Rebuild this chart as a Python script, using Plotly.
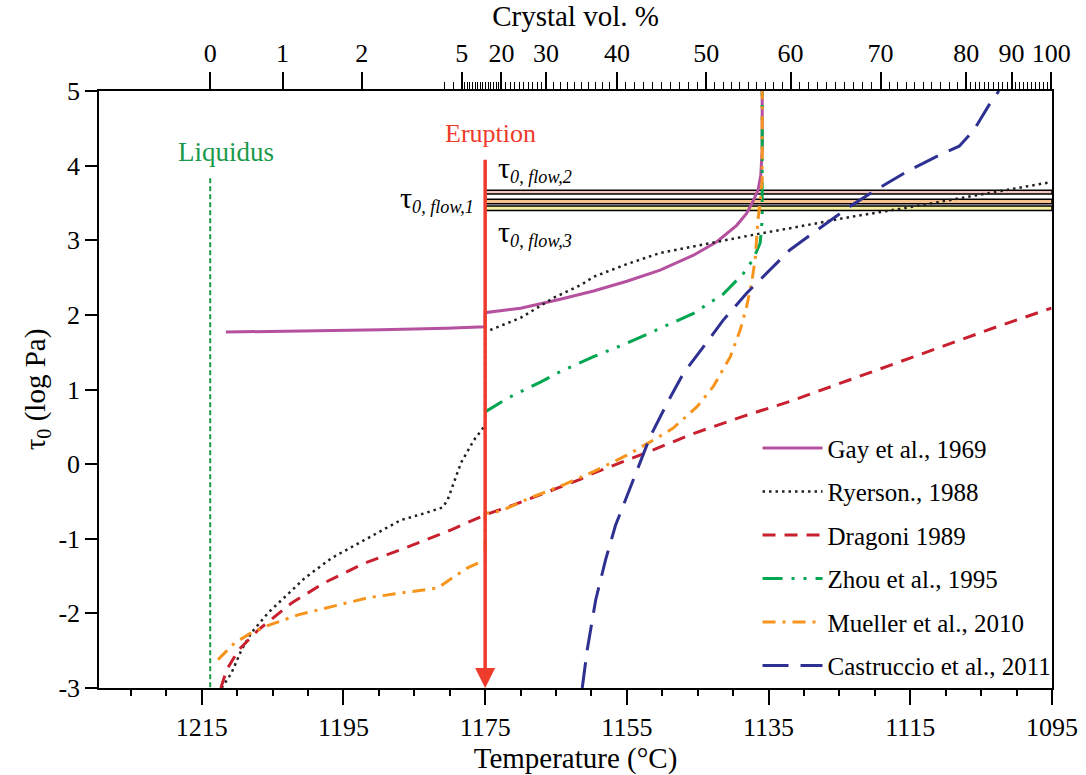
import numpy as np
import plotly.graph_objects as go

FONT = "Liberation Serif, Times New Roman, Times, serif"

# ---- axis definitions -------------------------------------------------
temp_range = [1229.5, 1095.0]
tau_range = [-3.0, 5.0]
y_tick_vals = [-3, -2, -1, 0, 1, 2, 3, 4, 5]
y_tick_text = ["-3", "-2", "-1", "0", "1", "2", "3", "4", "5"]

# top axis: crystal content (vol. %) and the temperature where it is reached
crystal_pct = [0, 1, 2, 5, 20, 30, 40, 50, 60, 70, 80, 90, 100]
crystal_T = [1213.8, 1203.6, 1192.4, 1178.3, 1172.7, 1166.4, 1156.4,
             1143.8, 1131.9, 1119.2, 1107.1, 1100.7, 1095.1]
crystal_labels = [str(p) for p in crystal_pct]
crystal_minor_extra_T = [1180.8, 1179.4]

# ---- reference temperatures -------------------------------------------
T_liquidus = 1213.8
T_eruption = 1175.0
liquidus_top = 3.83
eruption_top = 4.10

# ---- flow yield strength bands (log Pa) ---------------------------------
TAU = "<span style='font-size:30px'>τ</span>"
flow_names = [TAU + "<sub><i>0, flow,2</i></sub>",
              TAU + "<sub><i>0, flow,1</i></sub>",
              TAU + "<sub><i>0, flow,3</i></sub>"]
flow_lo = [3.62, 3.49, 3.40]
flow_hi = [3.67, 3.55, 3.46]
flow_fill = ["#f4c6c0", "#f7c28e", "#f5ef9e"]

# ---- yield strength models ----------------------------------------------
gay_T = [1211.6, 1200.9, 1189.7, 1180.5, 1177.0, 1175.0,
         1175.0, 1170.0, 1164.4, 1159.7, 1155.0, 1150.3, 1145.6, 1142.3,
         1139.5, 1138.1, 1137.2, 1136.5, 1136.1, 1135.9, 1135.9]
gay_tau = [1.77, 1.78, 1.80, 1.82, 1.83, 1.84,
           2.03, 2.09, 2.21, 2.32, 2.45, 2.60, 2.80, 2.98,
           3.20, 3.36, 3.52, 3.67, 3.87, 4.21, 5.0]

ryerson_T = [1212.2, 1210.8, 1209.4, 1208.0, 1205.6, 1203.3, 1200.5, 1196.7,
             1192.1, 1186.9, 1183.6, 1181.0, 1180.3, 1179.4, 1178.4, 1176.6,
             1175.0, 1175.0, 1170.0, 1165.3, 1161.5, 1159.7, 1155.0, 1150.3,
             1145.6, 1140.9, 1136.2, 1132.0, 1123.6, 1116.5, 1109.5, 1102.5,
             1095.1]
ryerson_tau = [-3.0, -2.80, -2.49, -2.26, -1.99, -1.78, -1.53, -1.26,
               -1.02, -0.75, -0.66, -0.58, -0.48, -0.24, 0.02, 0.32,
               0.52, 1.77, 1.96, 2.23, 2.40, 2.51, 2.68, 2.83,
               2.92, 3.01, 3.09, 3.16, 3.31, 3.42, 3.54, 3.65,
               3.78]

dragoni_T = [1212.3, 1211.5, 1209.8, 1207.0, 1202.3, 1197.7, 1192.1, 1185.9,
             1179.8, 1176.6, 1175.0, 1170.5, 1164.4, 1161.5, 1159.7, 1152.6,
             1145.6, 1138.6, 1132.0, 1116.5, 1102.5, 1095.1]
dragoni_tau = [-3.0, -2.76, -2.49, -2.22, -1.86, -1.59, -1.33, -1.11,
               -0.88, -0.75, -0.68, -0.53, -0.30, -0.20, -0.12, 0.14,
               0.41, 0.64, 0.84, 1.37, 1.85, 2.09]

zhou_T = [1175.0, 1171.9, 1167.2, 1164.4, 1159.7, 1155.0, 1150.3, 1145.6,
          1141.4, 1138.6, 1137.2, 1136.2, 1136.0, 1135.9, 1135.9]
zhou_tau = [0.70, 0.88, 1.10, 1.24, 1.44, 1.62, 1.82, 2.02,
            2.28, 2.55, 2.74, 2.96, 3.14, 3.32, 5.0]

mueller_T = [1212.7, 1210.4, 1208.0, 1205.6, 1201.4, 1196.3, 1191.5, 1186.4,
             1181.7, 1179.4, 1177.5, 1175.6, 1175.0, 1175.0, 1172.8, 1168.6,
             1164.0, 1159.7, 1155.0, 1151.3, 1148.5, 1145.1, 1142.8, 1140.4,
             1139.0, 1138.1, 1137.4, 1136.9, 1136.7, 1136.5, 1136.2, 1135.9,
             1135.9]
mueller_tau = [-2.62, -2.40, -2.26, -2.16, -2.02, -1.90, -1.79, -1.72,
               -1.66, -1.51, -1.39, -1.31, -1.31, -0.66, -0.63, -0.45,
               -0.28, -0.10, 0.12, 0.32, 0.48, 0.77, 1.04, 1.44,
               1.80, 2.11, 2.42, 2.74, 3.00, 3.27, 3.50, 3.81,
               5.0]

castruccio_T = [1161.3, 1160.6, 1159.4, 1158.0, 1156.6, 1155.2, 1153.6, 1151.7,
                1149.3, 1147.0, 1144.2, 1141.4, 1138.1, 1135.8, 1132.0, 1127.8,
                1123.6, 1119.4, 1115.1, 1110.9, 1108.1, 1106.0, 1103.9, 1102.5]
castruccio_tau = [-3.0, -2.49, -1.82, -1.28, -0.82, -0.48, -0.08, 0.37,
                  0.82, 1.22, 1.57, 1.93, 2.29, 2.51, 2.87, 3.16,
                  3.45, 3.70, 3.94, 4.14, 4.26, 4.48, 4.81, 5.0]

series = [
    ("Gay et al., 1969", gay_T, gay_tau, "#b5519f", "solid", 3),
    ("Ryerson., 1988", ryerson_T, ryerson_tau, "#231f20", "2.5px,4px", 2.5),
    ("Dragoni 1989", dragoni_T, dragoni_tau, "#c8202f", "13px,9px", 3),
    ("Zhou et al., 1995", zhou_T, zhou_tau, "#00a650",
     "20px,9px,3px,9px,3px,9px", 3),
    ("Mueller et al., 2010", mueller_T, mueller_tau, "#f7941d",
     "13px,7px,3px,7px", 3),
    ("Castruccio et al., 2011", castruccio_T, castruccio_tau, "#2e3192",
     "26px,12px", 3),
]

# minor ticks of the crystal axis: every 1 vol. % above 5 %
minor_pct = [p for p in range(6, 100) if p not in crystal_pct]
crystal_minor_T = list(np.interp(minor_pct, crystal_pct[3:], crystal_T[3:]))
crystal_minor_T += crystal_minor_extra_T

fig = go.Figure()

for name, T, tau, color, dash, width in series:
    fig.add_trace(go.Scatter(
        x=T, y=tau, mode="lines", name=name, legendgroup=name,
        line=dict(color=color, dash=dash, width=width),
    ))

# liquidus marker
fig.add_trace(go.Scatter(
    x=[T_liquidus, T_liquidus], y=[liquidus_top, tau_range[0]], mode="lines",
    line=dict(color="#1a9a4a", dash="5px,3px", width=2), showlegend=False,
    hoverinfo="skip",
))

# dummy trace carrying the crystal-content axis
fig.add_trace(go.Scatter(
    x=crystal_T, y=[None] * len(crystal_T), xaxis="x2", mode="lines",
    showlegend=False, hoverinfo="skip",
))

# flow yield strength bands
for lo, hi, fill in zip(flow_lo, flow_hi, flow_fill):
    fig.add_shape(type="rect", xref="x", yref="y", x0=T_eruption,
                  x1=temp_range[1], y0=lo, y1=hi, fillcolor=fill,
                  line=dict(color="black", width=1.5), layer="below")

# eruption arrow
fig.add_annotation(x=T_eruption, y=tau_range[0], ax=T_eruption, ay=eruption_top,
                   xref="x", yref="y", axref="x", ayref="y", text="",
                   showarrow=True, arrowhead=2, arrowsize=1.15, arrowwidth=3.5,
                   arrowcolor="#ef3b2c", standoff=0)
fig.add_annotation(x=T_eruption, y=4.43, xref="x", yref="y", text="Eruption",
                   showarrow=False, xshift=5,
                   font=dict(family=FONT, size=26, color="#ef3b2c"))
fig.add_annotation(x=1211.6, y=4.18, xref="x", yref="y", text="Liquidus",
                   showarrow=False,
                   font=dict(family=FONT, size=27, color="#1a9a4a"))

# flow band labels
fig.add_annotation(x=1173.5, y=3.95, xref="x", yref="y", text=flow_names[0],
                   showarrow=False, xanchor="left",
                   font=dict(family=FONT, size=26, color="black"))
fig.add_annotation(x=1176.3, y=3.55, xref="x", yref="y", text=flow_names[1],
                   showarrow=False, xanchor="right",
                   font=dict(family=FONT, size=26, color="black"))
fig.add_annotation(x=1173.5, y=3.10, xref="x", yref="y", text=flow_names[2],
                   showarrow=False, xanchor="left",
                   font=dict(family=FONT, size=26, color="black"))

axis_common = dict(showgrid=False, zeroline=False, showline=True,
                   linecolor="black", linewidth=1.5, ticks="outside",
                   tickcolor="black", tickwidth=1.5, automargin=False,
                   tickfont=dict(family=FONT, size=26, color="black"))

fig.update_layout(
    width=1086, height=775,
    margin=dict(l=99, r=34, t=91, b=87),
    paper_bgcolor="white", plot_bgcolor="white",
    font=dict(family=FONT, color="black"),
    xaxis=dict(
        range=temp_range, tick0=1215, dtick=20, ticklen=15,
        minor=dict(dtick=5, tick0=1215, ticks="outside", ticklen=6,
                   tickcolor="black", tickwidth=1.5),
        title=dict(text="Temperature (°C)", standoff=10,
                   font=dict(family=FONT, size=29, color="black")),
        **axis_common,
    ),
    xaxis2=dict(
        range=temp_range, overlaying="x", side="top", anchor="y",
        tickmode="array", tickvals=crystal_T, ticktext=crystal_labels,
        ticklen=17,
        minor=dict(tickmode="array", tickvals=crystal_minor_T,
                   ticks="outside", ticklen=7, tickcolor="black",
                   tickwidth=1.2),
        title=dict(text="Crystal vol. %", standoff=10,
                   font=dict(family=FONT, size=29, color="black")),
        **axis_common,
    ),
    yaxis=dict(
        range=tau_range, tickmode="array", tickvals=y_tick_vals,
        ticktext=y_tick_text, ticklen=12, mirror=True,
        title=dict(text="τ<sub>0</sub> (log Pa)", standoff=4,
                   font=dict(family=FONT, size=29, color="black")),
        **axis_common,
    ),
    legend=dict(x=0.691, y=0.44, xanchor="left", yanchor="top",
                font=dict(family=FONT, size=25, color="black"),
                tracegroupgap=8, itemwidth=60, bgcolor="rgba(0,0,0,0)"),
    showlegend=True,
)

fig.write_html("out.html")
